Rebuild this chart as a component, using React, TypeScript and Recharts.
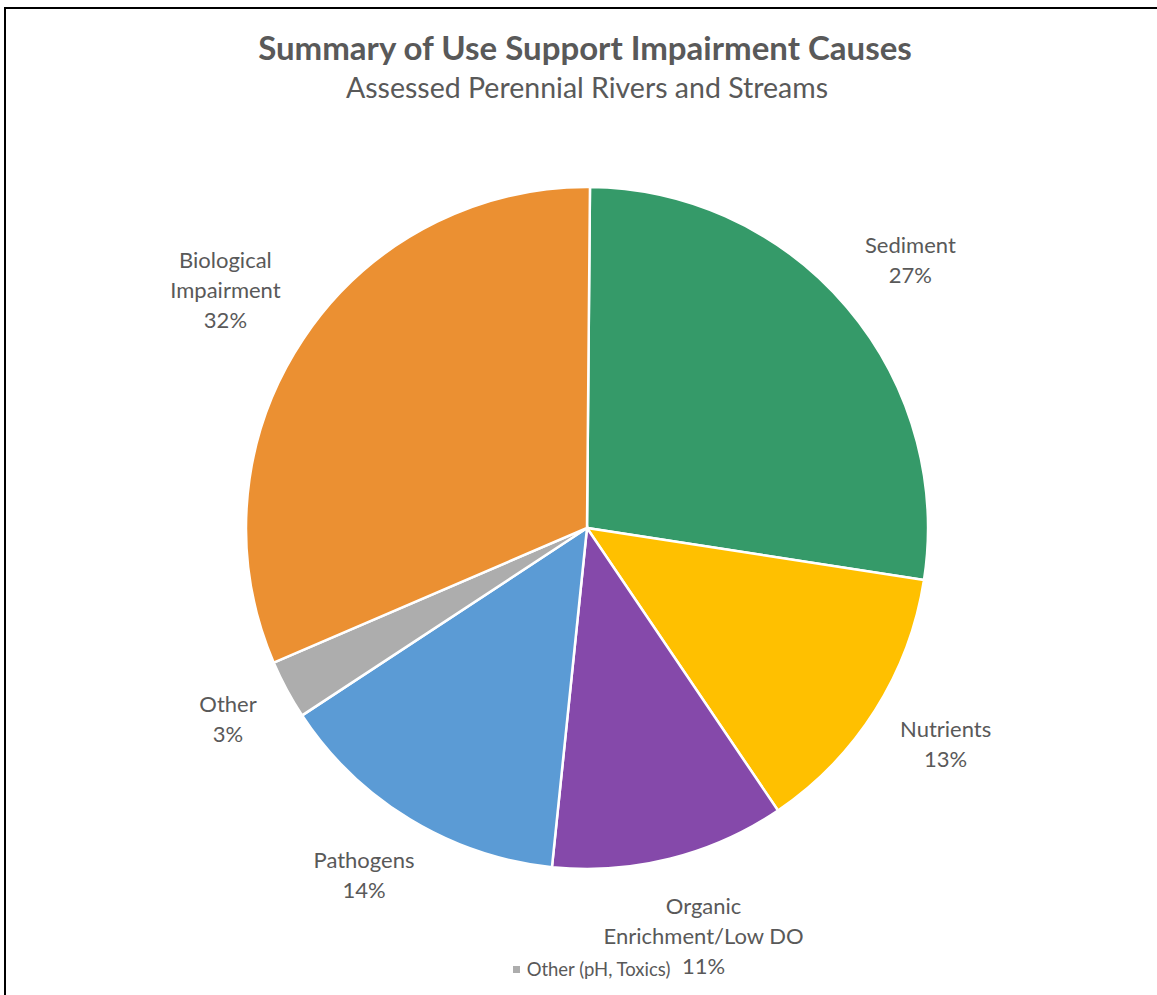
import { PieChart, Pie, Cell, Legend } from 'recharts';

const categories = ['Sediment', 'Nutrients', 'Organic\nEnrichment/Low DO', 'Pathogens', 'Other', 'Biological\nImpairment'];
const shares = [27.3, 13.1, 11.1, 14.1, 2.8, 31.6];
const colors = ['#359A69', '#FFC000', '#8549AA', '#5B9BD5', '#ADADAD', '#EB9032'];
const legendLabel = 'Other (pH, Toxics)';

const data = categories.map((name, i) => ({ name, value: shares[i] }));

const FONT = 'Lato, "Open Sans", sans-serif';
const RADIAN = Math.PI / 180;
const LABEL_SIZE = 22;
const LINE_H = 30;

let ctx: CanvasRenderingContext2D | null = null;
const textWidth = (s: string) => {
  if (!ctx) ctx = document.createElement('canvas').getContext('2d');
  if (!ctx) return s.length * LABEL_SIZE * 0.5;
  ctx.font = `${LABEL_SIZE}px ${FONT}`;
  return ctx.measureText(s).width;
};

// place the label box just outside the rim, pushed out by half its own size
const renderLabel = ({ cx, cy, midAngle, outerRadius, percent, name }: any) => {
  const lines = [...String(name).split('\n'), `${Math.round(percent * 100)}%`];
  const w = Math.max(...lines.map(textWidth));
  const h = lines.length * LINE_H;
  const ux = Math.cos(-midAngle * RADIAN);
  const uy = Math.sin(-midAngle * RADIAN);
  const r = outerRadius + 38;
  const x = cx + ux * (r + w / 2);
  const y = cy + uy * (r + h / 2) - 4;
  const top = y - ((lines.length - 1) * LINE_H) / 2;
  return (
    <text x={x} y={top} textAnchor="middle" dominantBaseline="central" fill="#595959" fontSize={LABEL_SIZE} fontFamily={FONT}>
      {lines.map((t, i) => (
        <tspan key={i} x={x} y={top + i * LINE_H}>{t}</tspan>
      ))}
    </text>
  );
};

const LegendContent = () => (
  <div style={{ display: 'flex', justifyContent: 'center', alignItems: 'center', paddingLeft: 26, fontFamily: FONT, fontSize: 18.5, color: '#595959' }}>
    <span style={{ width: 7, height: 7, background: colors[4], marginRight: 7, display: 'inline-block' }} />
    <span>{legendLabel}</span>
  </div>
);

export default function App() {
  return (
    <div style={{ position: 'absolute', left: 0, top: 0, width: 1157, height: 995, background: '#fff', overflow: 'hidden' }}>
      <div style={{ position: 'absolute', left: 4, top: 7, width: 1200, height: 1100, borderLeft: '2px solid #000', borderTop: '2px solid #000' }} />
      <div style={{ position: 'absolute', left: 0, top: 27, width: 1170, textAlign: 'center', fontFamily: FONT, fontWeight: 700, fontSize: 33, lineHeight: '40px', color: '#595959' }}>
        Summary of Use Support Impairment Causes
      </div>
      <div style={{ position: 'absolute', left: 0, top: 70, width: 1174, textAlign: 'center', fontFamily: FONT, fontSize: 28.5, lineHeight: '34px', color: '#595959' }}>
        Assessed Perennial Rivers and Streams
      </div>
      <div style={{ position: 'absolute', left: 0, top: 0 }}>
        <PieChart width={1157} height={995} margin={{ top: 0, right: 0, bottom: 0, left: 0 }}>
          <Pie
            data={data}
            dataKey="value"
            nameKey="name"
            cx={587}
            cy={528}
            outerRadius={341}
            startAngle={89.5}
            endAngle={-270.5}
            stroke="#fff"
            strokeWidth={2.5}
            label={renderLabel}
            labelLine={false}
            isAnimationActive={false}
          >
            {data.map((d, i) => (
              <Cell key={i} fill={colors[i]} />
            ))}
          </Pie>
          <Legend verticalAlign="bottom" wrapperStyle={{ bottom: 15 }} content={<LegendContent />} />
        </PieChart>
      </div>
    </div>
  );
}
